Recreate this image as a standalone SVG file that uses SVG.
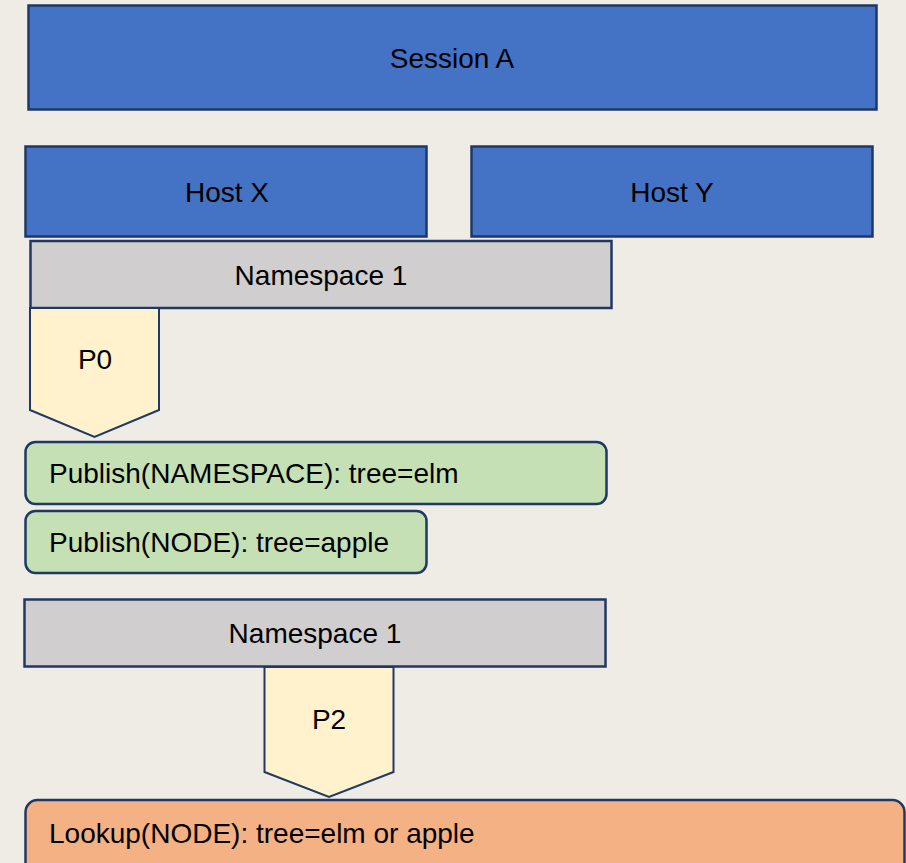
<svg xmlns="http://www.w3.org/2000/svg" width="906" height="863" viewBox="0 0 906 863">
<style>
text{font-family:"Liberation Sans",Arial,sans-serif;font-size:28px;fill:#000}
.c{text-anchor:middle}
.blue{fill:#4472C4;stroke:#203864;stroke-width:2.5}
.gray{fill:#D0CECE;stroke:#203864;stroke-width:2.5}
.yel{fill:#FFF2CC;stroke:#203864;stroke-width:2}
.grn{fill:#C5E0B4;stroke:#203864;stroke-width:2.5}
.org{fill:#F4B183;stroke:#203864;stroke-width:2.5}
</style>
<rect width="906" height="863" fill="#EFECE5"/>
<g id="session-a"><rect class="blue" x="28.5" y="5.5" width="848" height="104"/><text class="c" x="452" y="68">Session A</text></g>
<g id="host-x"><rect class="blue" x="25.5" y="146.5" width="401" height="90"/><text class="c" x="227" y="202">Host X</text></g>
<g id="host-y"><rect class="blue" x="471.5" y="146.5" width="401" height="90"/><text class="c" x="672" y="202">Host Y</text></g>
<g id="namespace-1a"><rect class="gray" x="30.5" y="241" width="581" height="67"/><text class="c" x="321" y="285">Namespace 1</text></g>
<g id="p0"><path class="yel" d="M30,308 H159 V410 L94.5,437 L30,410 Z"/><text class="c" x="95" y="369">P0</text></g>
<g id="publish-ns"><rect class="grn" x="25.5" y="442" width="581" height="62" rx="10"/><text x="49" y="483">Publish(NAMESPACE): tree=elm</text></g>
<g id="publish-node"><rect class="grn" x="25.5" y="511" width="401" height="62" rx="10"/><text x="49" y="552">Publish(NODE): tree=apple</text></g>
<g id="namespace-1b"><rect class="gray" x="24.5" y="599.5" width="581" height="67"/><text class="c" x="315" y="643">Namespace 1</text></g>
<g id="p2"><path class="yel" d="M264.5,667 H393.5 V772 L329,797 L264.5,772 Z"/><text class="c" x="329" y="729">P2</text></g>
<g id="lookup"><rect class="org" x="25.5" y="800" width="879" height="90" rx="12"/><text x="49" y="843">Lookup(NODE): tree=elm or apple</text></g>
<g id="connectors"></g>
</svg>
